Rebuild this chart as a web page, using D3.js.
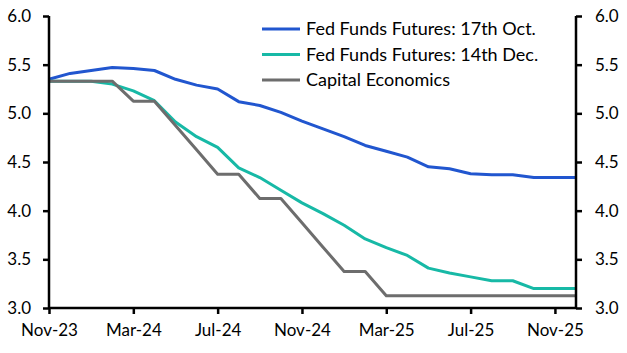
<!DOCTYPE html>
<html><head><meta charset="utf-8">
<script src="https://cdn.jsdelivr.net/npm/d3@7"></script>
<style>body{margin:0;background:#fff}svg{display:block}</style>
</head><body>
<script>
const months = ["Nov-23","Dec-23","Jan-24","Feb-24","Mar-24","Apr-24","May-24","Jun-24","Jul-24","Aug-24","Sep-24","Oct-24","Nov-24","Dec-24","Jan-25","Feb-25","Mar-25","Apr-25","May-25","Jun-25","Jul-25","Aug-25","Sep-25","Oct-25","Nov-25","Dec-25"];
const futOct = [5.35,5.41,5.44,5.47,5.46,5.44,5.35,5.29,5.25,5.12,5.08,5.01,4.92,4.84,4.76,4.67,4.61,4.55,4.45,4.43,4.38,4.37,4.37,4.34,4.34,4.34];
const futDec = [5.33,5.33,5.33,5.30,5.23,5.13,4.91,4.76,4.65,4.44,4.34,4.21,4.08,3.97,3.85,3.71,3.62,3.54,3.41,3.36,3.32,3.28,3.28,3.20,3.20,3.20];
const capEcon = [5.33,5.33,5.33,5.33,5.125,5.125,4.875,4.625,4.375,4.375,4.125,4.125,3.875,3.625,3.375,3.375,3.125,3.125,3.125,3.125,3.125,3.125,3.125,3.125,3.125,3.125];
const yTicks = [3.0,3.5,4.0,4.5,5.0,5.5,6.0];
const xTickLabels = ["Nov-23","Mar-24","Jul-24","Nov-24","Mar-25","Jul-25","Nov-25"];
const seriesNames = ["Fed Funds Futures: 17th Oct.","Fed Funds Futures: 14th Dec.","Capital Economics"];
const colors = ["#2156cf","#17b9a6","#6d6d6d"];

const W=627,H=353;
const svg=d3.select("body").append("svg").attr("width",W).attr("height",H);
const x=d3.scaleLinear().domain([0,months.length-1]).range([49,576]);
const y=d3.scaleLinear().domain([3,6]).range([308,16]);
const font="Lato, 'Open Sans', sans-serif";

const data=[futOct,futDec,capEcon];
const line=d3.line().x((d,i)=>x(i)).y(d=>y(d));
data.forEach((s,k)=>{
  svg.append("path").datum(s).attr("d",line).attr("fill","none")
    .attr("stroke",colors[k]).attr("stroke-width",3).attr("stroke-linejoin","round");
});

const tickFmt=d3.format(".1f");
const left=svg.append("g").attr("transform","translate(49,0)")
  .call(d3.axisLeft(y).tickValues(yTicks).tickFormat(tickFmt).tickSize(6).tickPadding(12));
const right=svg.append("g").attr("transform","translate(576,0)")
  .call(d3.axisRight(y).tickValues(yTicks).tickFormat(tickFmt).tickSize(6).tickPadding(13));
const xIdx=xTickLabels.map(l=>months.indexOf(l));
const bottom=svg.append("g").attr("transform","translate(0,308)")
  .call(d3.axisBottom(x).tickValues(xIdx).tickFormat(i=>months[i]).tickSize(6).tickPadding(10));
[left,right,bottom].forEach(g=>{
  g.select(".domain").attr("stroke","#000").attr("stroke-width",2.5);
  g.selectAll(".tick line").attr("stroke","#000").attr("stroke-width",2.5);
  g.selectAll(".tick text").attr("fill","#000").style("font-family",font).style("font-size","17px");
});
left.select(".domain").attr("d","M0,16V308");
right.select(".domain").attr("d","M0,16V308");
bottom.select(".domain").attr("d","M49,0H576");

const leg=svg.append("g");
seriesNames.forEach((n,k)=>{
  const ly=29+k*25.5;
  leg.append("line").attr("x1",262).attr("x2",300).attr("y1",ly).attr("y2",ly)
    .attr("stroke",colors[k]).attr("stroke-width",3);
  leg.append("text").attr("x",306).attr("y",ly+6).text(n)
    .style("font-family",font).style("font-size","18px").attr("fill","#000");
});
</script>
</body></html>
